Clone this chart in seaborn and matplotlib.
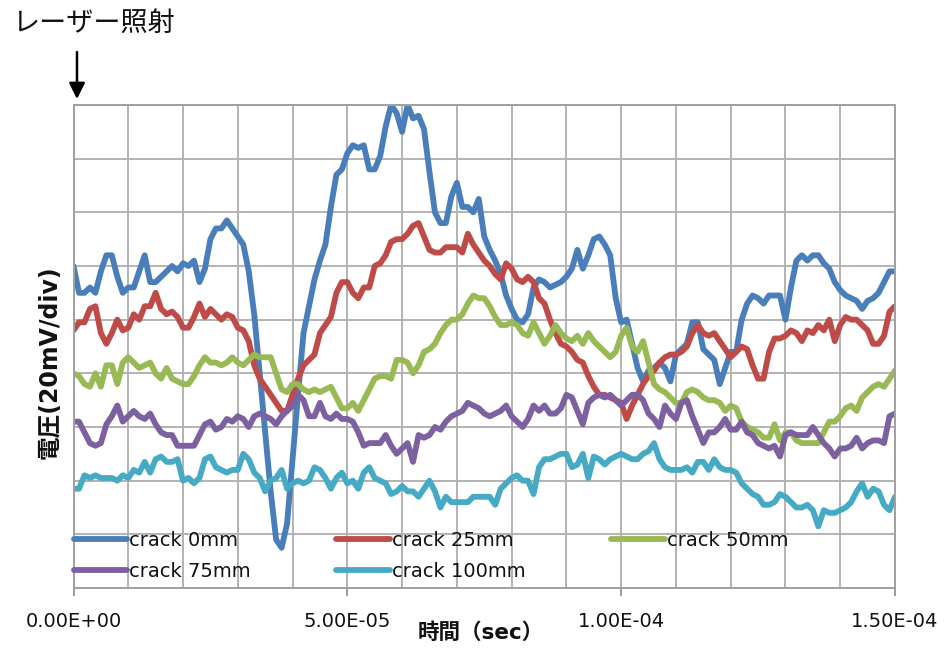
import numpy as np
import pandas as pd
import matplotlib
matplotlib.use("Agg")
import matplotlib.pyplot as plt
from matplotlib.ticker import MultipleLocator, FixedLocator, FuncFormatter
import seaborn as sns

# Sample times (microseconds), one sample per microsecond
time_us = np.arange(0, 151)

# Voltage traces in divisions (20 mV/div)
crack_0mm = [
    6.0, 5.5, 5.5, 5.6, 5.5, 5.9, 6.2, 6.2, 5.8, 5.5,
    5.6, 5.6, 5.9, 6.2, 5.7, 5.7, 5.8, 5.9, 6.0, 5.9,
    6.05, 6.0, 6.1, 5.7, 5.95, 6.5, 6.7, 6.7, 6.85, 6.7,
    6.55,
    6.4, 5.9, 5.1, 4.0, 2.9, 1.8, 0.9, 0.75, 1.2, 2.4,
    3.6, 4.75, 5.25, 5.75, 6.1, 6.4, 7.1, 7.7, 7.8, 8.1,
    8.25, 8.2, 8.25, 7.8, 7.8, 8.05, 8.6, 9.0, 8.85, 8.5,
    9.0, 8.75, 8.8, 8.55, 7.75, 7.0, 6.8, 6.8, 7.3, 7.55,
    7.1, 7.1, 7.0, 7.25, 6.55, 6.3, 6.1, 5.85, 5.45, 5.2,
    5.0, 4.95, 5.1, 5.6, 5.75, 5.7, 5.6, 5.65, 5.7, 5.8,
    5.95, 6.3, 5.95, 6.2, 6.5, 6.55, 6.4, 6.2, 5.4, 4.95,
    5.0, 4.55, 4.1, 3.85, 4.05, 4.1, 4.2, 4.1, 3.85, 4.35,
    4.45, 4.55, 4.95, 4.95, 4.45, 4.35, 4.25, 3.8, 4.1, 4.4,
    4.4, 5.0, 5.3, 5.45, 5.4, 5.3, 5.45, 5.45, 5.45, 5.0,
    5.6, 6.1, 6.2, 6.1, 6.2, 6.2, 6.05, 5.95, 5.7, 5.55,
    5.45, 5.4, 5.35, 5.2, 5.35, 5.4, 5.5, 5.7, 5.9, 5.9,
]
crack_25mm = [
    4.8, 4.95, 4.95, 5.2, 5.25, 4.75, 4.55, 4.75, 5.0, 4.8,
    4.85, 5.1, 5.0, 5.25, 5.25, 5.5, 5.2, 5.1, 5.15, 5.05,
    4.85, 4.85, 5.05, 5.3, 5.05, 5.2, 5.1, 5.0, 5.1, 5.05,
    4.85,
    4.8, 4.6, 4.15, 3.9, 3.75, 3.6, 3.45, 3.3, 3.3, 3.6,
    3.9, 4.15, 4.25, 4.35, 4.75, 4.9, 5.05, 5.5, 5.7, 5.7,
    5.5, 5.4, 5.6, 5.6, 6.0, 6.05, 6.2, 6.45, 6.5, 6.5,
    6.6, 6.75, 6.8, 6.55, 6.3, 6.25, 6.25, 6.35, 6.35, 6.35,
    6.25, 6.6, 6.4, 6.25, 6.1, 6.0, 5.85, 5.75, 6.05, 5.95,
    5.75, 5.7, 5.8, 5.7, 5.4, 5.3, 5.0, 4.75, 4.55, 4.5,
    4.4, 4.25, 4.2, 3.95, 3.75, 3.6, 3.6, 3.55, 3.5, 3.45,
    3.15, 3.4, 3.6, 3.8, 3.95, 4.05, 4.2, 4.3, 4.35, 4.35,
    4.4, 4.5, 4.75, 4.9, 4.75, 4.7, 4.75, 4.6, 4.45, 4.3,
    4.4, 4.5, 4.45, 4.15, 3.9, 3.9, 4.4, 4.65, 4.65, 4.7,
    4.8, 4.75, 4.6, 4.8, 4.75, 4.9, 4.8, 5.0, 4.6, 4.9,
    5.05, 5.0, 5.0, 4.9, 4.8, 4.55, 4.55, 4.7, 5.15, 5.25,
]
crack_50mm = [
    4.0, 3.95, 3.8, 3.75, 4.0, 3.75, 4.15, 4.15, 3.8, 4.2,
    4.3, 4.2, 4.1, 4.15, 4.2, 4.0, 3.9, 4.1, 3.9, 3.85,
    3.8, 3.8, 3.95, 4.15, 4.3, 4.2, 4.2, 4.15, 4.2, 4.3,
    4.2,
    4.15, 4.25, 4.35, 4.3, 4.3, 4.3, 4.0, 3.7, 3.65, 3.8,
    3.8, 3.7, 3.65, 3.7, 3.65, 3.7, 3.75, 3.55, 3.35, 3.35,
    3.45, 3.3, 3.5, 3.7, 3.9, 3.95, 3.95, 3.9, 4.25, 4.25,
    4.2, 4.0, 4.15, 4.4, 4.45, 4.55, 4.75, 4.9, 5.0, 5.0,
    5.1, 5.3, 5.45, 5.4, 5.4, 5.25, 5.05, 4.9, 4.9, 4.95,
    4.9, 4.75, 4.7, 4.95, 4.75, 4.55, 4.7, 4.9, 4.75, 4.65,
    4.6, 4.7, 4.55, 4.75, 4.6, 4.5, 4.4, 4.3, 4.4, 4.7,
    4.85, 4.5, 4.4, 4.6, 4.2, 3.8, 3.7, 3.65, 3.55, 3.45,
    3.45, 3.65, 3.7, 3.65, 3.55, 3.5, 3.5, 3.45, 3.3, 3.4,
    3.35, 3.1, 3.0, 2.95, 2.9, 2.8, 2.8, 3.05, 2.75, 2.9,
    2.9, 2.75, 2.7, 2.7, 2.7, 2.7, 2.9, 3.1, 3.1, 3.2,
    3.35, 3.4, 3.3, 3.55, 3.65, 3.75, 3.8, 3.75, 3.9, 4.05,
]
crack_75mm = [
    3.1, 3.1, 2.9, 2.7, 2.65, 2.7, 3.05, 3.2, 3.4, 3.1,
    3.2, 3.3, 3.2, 3.15, 3.25, 3.05, 2.9, 2.85, 2.85, 2.65,
    2.65, 2.65, 2.65, 2.85, 3.05, 3.1, 2.95, 3.0, 3.15, 3.1,
    3.2,
    3.15, 3.0, 3.2, 3.25, 3.2, 3.15, 3.05, 3.2, 3.3, 3.4,
    3.6, 3.5, 3.2, 3.2, 3.45, 3.2, 3.15, 3.25, 3.15, 3.15,
    3.1, 2.9, 2.65, 2.7, 2.7, 2.7, 2.85, 2.65, 2.5, 2.6,
    2.7, 2.35, 2.85, 2.8, 2.85, 3.0, 2.95, 3.1, 3.2, 3.25,
    3.3, 3.45, 3.4, 3.35, 3.25, 3.2, 3.25, 3.3, 3.4, 3.2,
    3.1, 3.0, 3.15, 3.4, 3.3, 3.4, 3.25, 3.25, 3.35, 3.6,
    3.55, 3.3, 3.05, 3.45, 3.55, 3.6, 3.55, 3.6, 3.5, 3.4,
    3.5, 3.6, 3.6, 3.5, 3.25, 3.15, 3.0, 3.4, 3.25, 3.15,
    3.45, 3.5, 3.2, 2.95, 2.7, 2.9, 2.9, 3.0, 3.15, 2.95,
    2.95, 3.1, 2.9, 2.85, 2.7, 2.65, 2.6, 2.65, 2.45, 2.85,
    2.9, 2.85, 2.85, 2.85, 3.0, 2.85, 2.7, 2.6, 2.45, 2.6,
    2.6, 2.65, 2.8, 2.6, 2.7, 2.75, 2.75, 2.7, 3.2, 3.25,
]
crack_100mm = [
    1.85, 1.85, 2.1, 2.05, 2.1, 2.05, 2.05, 2.05, 2.0, 2.1,
    2.05, 2.2, 2.15, 2.35, 2.15, 2.4, 2.45, 2.35, 2.35, 2.4,
    2.0, 2.05, 1.95, 2.05, 2.4, 2.45, 2.25, 2.2, 2.15, 2.2,
    2.2,
    2.5, 2.4, 2.15, 2.05, 1.8, 2.0, 2.05, 2.2, 1.85, 1.95,
    2.0, 1.95, 2.0, 2.25, 2.2, 2.05, 1.85, 2.05, 2.15, 1.95,
    2.0, 1.85, 2.15, 2.25, 2.05, 2.0, 1.95, 1.75, 1.8, 1.9,
    1.8, 1.8, 1.7, 1.85, 2.0, 1.8, 1.5, 1.7, 1.6, 1.6,
    1.6, 1.6, 1.7, 1.7, 1.7, 1.7, 1.55, 1.85, 1.95, 2.05,
    2.1, 2.0, 2.0, 1.75, 2.25, 2.4, 2.4, 2.45, 2.5, 2.5,
    2.25, 2.3, 2.5, 2.05, 2.45, 2.4, 2.3, 2.4, 2.45, 2.5,
    2.45, 2.4, 2.4, 2.5, 2.55, 2.7, 2.4, 2.25, 2.2, 2.2,
    2.2, 2.25, 2.15, 2.35, 2.35, 2.2, 2.4, 2.25, 2.2, 2.2,
    2.15, 1.95, 1.85, 1.75, 1.7, 1.55, 1.55, 1.6, 1.75, 1.7,
    1.6, 1.5, 1.5, 1.55, 1.45, 1.15, 1.45, 1.4, 1.4, 1.45,
    1.5, 1.6, 1.8, 1.95, 1.7, 1.85, 1.8, 1.55, 1.45, 1.7,
]

series_names = ["crack 0mm", "crack 25mm", "crack 50mm", "crack 75mm", "crack 100mm"]
series_values = [crack_0mm, crack_25mm, crack_50mm, crack_75mm, crack_100mm]
series_colors = ["#4A7EBB", "#BE4B48", "#98B954", "#7D60A0", "#46AAC5"]

x_tick_values = [0.0, 5.0e-5, 1.0e-4, 1.5e-4]

sns.set_theme(style="white")
plt.rcParams["font.family"] = ["DejaVu Sans", "Noto Sans CJK JP"]

frames = []
for name, vals in zip(series_names, series_values):
    frames.append(pd.DataFrame({
        "time": time_us * 1e-6,
        "voltage": vals,
        "series": name,
    }))
df = pd.concat(frames, ignore_index=True)

W, H = 946, 648
fig = plt.figure(figsize=(W / 100, H / 100), dpi=100)
left, right, top, bottom = 73.5, 895.0, 105.0, 588.0
ax = fig.add_axes([left / W, 1 - bottom / H, (right - left) / W, (bottom - top) / H])

sns.lineplot(
    data=df, x="time", y="voltage", hue="series",
    hue_order=series_names, palette=series_colors,
    estimator=None, sort=False, linewidth=4.2, ax=ax,
)
for line in ax.get_lines():
    line.set_solid_joinstyle("round")
    line.set_solid_capstyle("round")

ax.set_xlim(0, 1.5e-4)
ax.set_ylim(0, 9)

grid_color = "#b2b2b2"
ax.xaxis.set_major_locator(FixedLocator(x_tick_values))
ax.xaxis.set_minor_locator(MultipleLocator(1e-5))
ax.xaxis.set_major_formatter(FuncFormatter(lambda v, p: "%.2E" % v))
ax.yaxis.set_major_locator(MultipleLocator(1))
ax.set_yticklabels([])
ax.grid(which="both", axis="x", color=grid_color, linewidth=1.4)
ax.grid(which="major", axis="y", color=grid_color, linewidth=1.4)
ax.set_axisbelow(True)

ax.tick_params(axis="x", which="major", direction="out", length=6, width=1.4,
               color="#999999", labelsize=14, pad=11, labelcolor="#111111",
               bottom=True)
ax.tick_params(axis="x", which="minor", length=0)
ax.tick_params(axis="y", which="both", length=0, left=False)
for sp in ax.spines.values():
    sp.set_color("#a0a0a0")
    sp.set_linewidth(1.4)

ax.set_xlabel("")
ax.set_ylabel("")

handles, labels = ax.get_legend_handles_labels()
order = [0, 3, 1, 4, 2]
leg = ax.legend(
    [handles[i] for i in order], [labels[i] for i in order],
    ncol=3, loc="upper left", bbox_to_anchor=(0.0, (bottom - 531) / (bottom - top)),
    frameon=False, fontsize=14, handlelength=2.75, handletextpad=0.12,
    columnspacing=4.4, labelspacing=0.6, borderpad=0, borderaxespad=0,
)
for line in leg.get_lines():
    line.set_linewidth(4.2)
for txt in leg.get_texts():
    txt.set_color("#111111")

fig.text(481 / W, 1 - 633 / H, "時間（sec）", ha="center", va="center",
         fontsize=15.5, fontweight="bold", color="#111111")
fig.text(50 / W, 1 - 362 / H, "電圧(20mV/div)", ha="center", va="center",
         rotation=90, fontsize=17, fontweight="bold", color="#111111")

fig.text(12 / W, 1 - 24 / H, "レーザー照射", ha="left", va="center",
         fontsize=19.5, color="#111111")
ax.annotate("", xy=(77, H - 99), xycoords="figure pixels",
            xytext=(77, H - 52), textcoords="figure pixels",
            arrowprops=dict(arrowstyle="-|>", color="black", lw=1.8,
                            mutation_scale=24, shrinkA=0, shrinkB=0))

fig.savefig("out.png", dpi=100)
